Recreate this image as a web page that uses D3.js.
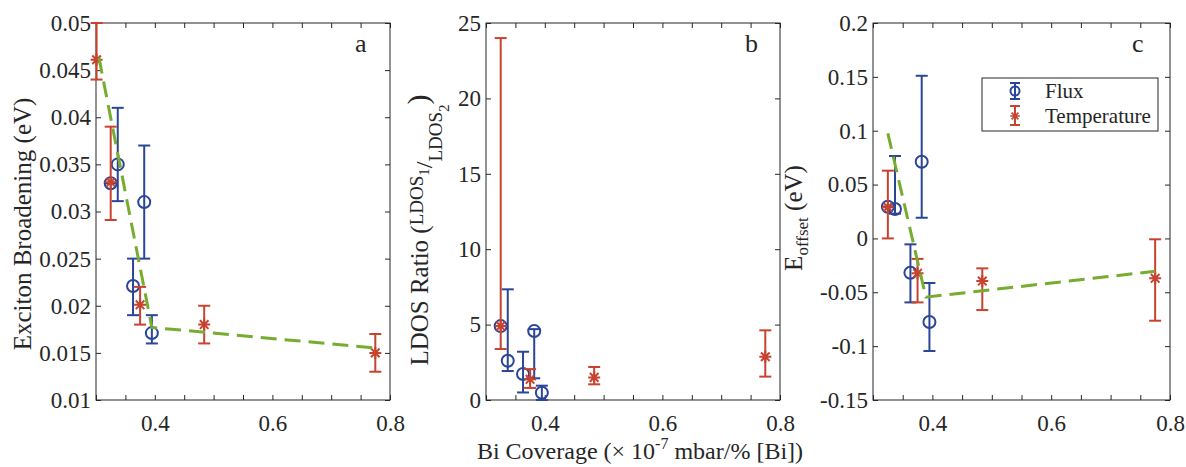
<!DOCTYPE html>
<html>
<head>
<meta charset="utf-8">
<script src="https://cdn.jsdelivr.net/npm/d3@7"></script>
<style>
  body { margin: 0; background: #fff; }
  text { font-family: "Liberation Serif", "Times New Roman", serif; fill: #262626; }
</style>
</head>
<body>
<svg id="chart" width="1186" height="467"></svg>
<script>
// ---- data ----
const coverageTicks = [0.3, 0.35, 0.4, 0.45, 0.5, 0.55, 0.6, 0.65, 0.7, 0.75, 0.8];
const coverageLabels = [0.4, 0.6, 0.8];

const fluxX = [0.325, 0.337, 0.363, 0.382, 0.395];
const tempXa = [0.301, 0.325, 0.375, 0.484, 0.775];
const tempX = [0.325, 0.375, 0.484, 0.775];

// a: exciton broadening (eV)
const broadTicks = [0.01, 0.015, 0.02, 0.025, 0.03, 0.035, 0.04, 0.045, 0.05];
const broadFlux = [0.033, 0.035, 0.0221, 0.031, 0.0171];
const broadFluxLo = [0.033, 0.0311, 0.019, 0.025, 0.016];
const broadFluxHi = [0.033, 0.041, 0.025, 0.037, 0.019];
const broadTemp = [0.0461, 0.0331, 0.0201, 0.018, 0.015];
const broadTempLo = [0.044, 0.0291, 0.018, 0.016, 0.013];
const broadTempHi = [0.05, 0.039, 0.022, 0.020, 0.017];
const broadFitX = [0.305, 0.395, 0.778];
const broadFitY = [0.0463, 0.0177, 0.0155];

// b: LDOS ratio
const ratioTicks = [0, 5, 10, 15, 20, 25];
const ratioFlux = [4.9, 2.6, 1.72, 4.57, 0.48];
const ratioFluxLo = [4.9, 1.92, 0.5, 1.44, 0.0];
const ratioFluxHi = [4.9, 7.34, 3.2, 4.7, 0.95];
const ratioTemp = [4.9, 1.37, 1.5, 2.87];
const ratioTempLo = [3.38, 0.8, 1.04, 1.55];
const ratioTempHi = [24.0, 2.05, 2.19, 4.62];

// c: E offset (eV)
const offsetTicks = [-0.15, -0.1, -0.05, 0, 0.05, 0.1, 0.15, 0.2];
const offsetFlux = [0.0294, 0.0273, -0.0318, 0.0712, -0.0776];
const offsetFluxLo = [0.0294, 0.023, -0.0594, 0.0192, -0.1045];
const offsetFluxHi = [0.0294, 0.0765, -0.0055, 0.151, -0.0414];
const offsetTemp = [0.029, -0.0324, -0.0396, -0.037];
const offsetTempLo = [0.0, -0.0594, -0.0665, -0.0764];
const offsetTempHi = [0.0629, -0.019, -0.0278, -0.0008];
const offsetFitX = [0.325, 0.389, 0.775];
const offsetFitY = [0.0976, -0.0545, -0.0305];

const seriesNames = ["Flux", "Temperature"];

// ---- styling ----
const blue = "#2b4597";
const red = "#c8432f";
const green = "#77ac30";
const axisColor = "#262626";

const svg = d3.select("#chart");
const plotTop = 23, plotBottom = 400;

function zip(xs, ys, lo, hi) {
    return xs.map(function (x, i) { return { x: x, y: ys[i], lo: lo[i], hi: hi[i] }; });
}

const panels = [
    { letter: "a", left: 96, right: 390, yDomain: [0.01, 0.05], yTicks: broadTicks,
      flux: zip(fluxX, broadFlux, broadFluxLo, broadFluxHi),
      temp: zip(tempXa, broadTemp, broadTempLo, broadTempHi),
      fit: broadFitX.map(function (x, i) { return [x, broadFitY[i]]; }) },
    { letter: "b", left: 486, right: 780, yDomain: [0, 25], yTicks: ratioTicks,
      flux: zip(fluxX, ratioFlux, ratioFluxLo, ratioFluxHi),
      temp: zip(tempX, ratioTemp, ratioTempLo, ratioTempHi),
      fit: null },
    { letter: "c", left: 873, right: 1170, yDomain: [-0.15, 0.2], yTicks: offsetTicks,
      flux: zip(fluxX, offsetFlux, offsetFluxLo, offsetFluxHi),
      temp: zip(tempX, offsetTemp, offsetTempLo, offsetTempHi),
      fit: offsetFitX.map(function (x, i) { return [x, offsetFitY[i]]; }) }
];

const starPath = "M-6,0H6M0,-6V6M-4.3,-4.3L4.3,4.3M-4.3,4.3L4.3,-4.3";

function errorBars(g, data, x, y, color) {
    const eb = g.append("g").selectAll("g").data(data).enter().append("g")
        .attr("stroke", color).attr("stroke-width", 2).attr("fill", "none");
    eb.append("line")
        .attr("x1", function (d) { return x(d.x); }).attr("x2", function (d) { return x(d.x); })
        .attr("y1", function (d) { return y(d.lo); }).attr("y2", function (d) { return y(d.hi); });
    eb.append("line")
        .attr("x1", function (d) { return x(d.x) - 6; }).attr("x2", function (d) { return x(d.x) + 6; })
        .attr("y1", function (d) { return y(d.lo); }).attr("y2", function (d) { return y(d.lo); });
    eb.append("line")
        .attr("x1", function (d) { return x(d.x) - 6; }).attr("x2", function (d) { return x(d.x) + 6; })
        .attr("y1", function (d) { return y(d.hi); }).attr("y2", function (d) { return y(d.hi); });
    return eb;
}

panels.forEach(function (p) {
    const x = d3.scaleLinear().domain([0.3, 0.8]).range([p.left, p.right]);
    const y = d3.scaleLinear().domain(p.yDomain).range([plotBottom, plotTop]);
    const g = svg.append("g");
    const fmt = function (d) { return String(+d.toFixed(4)); };

    // axes, MATLAB style: inward ticks on all four sides
    const xb = g.append("g").attr("transform", "translate(0," + plotBottom + ")")
        .call(d3.axisBottom(x).tickValues(coverageTicks).tickSizeInner(-5).tickSizeOuter(0).tickPadding(10)
            .tickFormat(function (d) { return coverageLabels.some(function (v) { return Math.abs(v - d) < 1e-9; }) ? fmt(d) : ""; }));
    const xt = g.append("g").attr("transform", "translate(0," + plotTop + ")")
        .call(d3.axisTop(x).tickValues(coverageTicks).tickSizeInner(-5).tickSizeOuter(0).tickFormat(""));
    const yl = g.append("g").attr("transform", "translate(" + p.left + ",0)")
        .call(d3.axisLeft(y).tickValues(p.yTicks).tickSizeInner(-5).tickSizeOuter(0).tickPadding(5).tickFormat(fmt));
    const yr = g.append("g").attr("transform", "translate(" + p.right + ",0)")
        .call(d3.axisRight(y).tickValues(p.yTicks).tickSizeInner(-5).tickSizeOuter(0).tickFormat(""));
    [xb, xt, yl, yr].forEach(function (a) {
        a.select(".domain").remove();
        a.selectAll(".tick line").attr("stroke", axisColor);
        a.selectAll(".tick text").style("font-family", "'Liberation Serif', serif")
            .style("font-size", "23px").attr("fill", axisColor);
    });
    xb.selectAll(".tick text").attr("dy", "0.92em");

    g.append("rect").attr("x", p.left).attr("y", plotTop)
        .attr("width", p.right - p.left).attr("height", plotBottom - plotTop)
        .attr("fill", "none").attr("stroke", axisColor).attr("stroke-width", 1);

    // Flux series
    errorBars(g, p.flux, x, y, blue);
    g.append("g").selectAll("circle").data(p.flux).enter().append("circle")
        .attr("cx", function (d) { return x(d.x); }).attr("cy", function (d) { return y(d.y); })
        .attr("r", 6).attr("fill", "none").attr("stroke", blue).attr("stroke-width", 2);

    // Temperature series
    errorBars(g, p.temp, x, y, red);
    g.append("g").selectAll("path").data(p.temp).enter().append("path")
        .attr("transform", function (d) { return "translate(" + x(d.x) + "," + y(d.y) + ")"; })
        .attr("d", starPath).attr("stroke", red).attr("stroke-width", 2).attr("fill", "none");

    // fit
    if (p.fit) {
        g.append("path").datum(p.fit)
            .attr("d", d3.line().x(function (d) { return x(d[0]); }).y(function (d) { return y(d[1]); }))
            .attr("fill", "none").attr("stroke", green).attr("stroke-width", 3)
            .attr("stroke-dasharray", "16,8");
    }

    g.append("text").attr("x", p.left + 259).attr("y", 52)
        .style("font-size", "26px").text(p.letter);
});

// y labels
svg.append("text").attr("transform", "translate(31,224) rotate(-90)")
    .attr("text-anchor", "middle").style("font-size", "25px").text("Exciton Broadening (eV)");

const lb = svg.append("text").attr("transform", "translate(428,230) rotate(-90)")
    .attr("text-anchor", "middle").style("font-size", "25px");
lb.append("tspan").text("LDOS Ratio (");
lb.append("tspan").style("font-size", "19px").attr("dy", -5).text("LDOS");
lb.append("tspan").style("font-size", "15px").attr("dy", 6).text("1");
lb.append("tspan").style("font-size", "24px").attr("dy", 3).text("/");
lb.append("tspan").style("font-size", "19px").attr("dy", 10).text("LDOS");
lb.append("tspan").style("font-size", "15px").attr("dy", 7).text("2");
lb.append("tspan").style("font-size", "30px").attr("dy", -21).text(")");

const lc = svg.append("text").attr("transform", "translate(802,218) rotate(-90)")
    .attr("text-anchor", "middle").style("font-size", "25px");
lc.append("tspan").text("E");
lc.append("tspan").style("font-size", "17px").attr("dy", 6).text("offset");
lc.append("tspan").attr("dy", -6).text(" (eV)");

// x label
const xl = svg.append("text").attr("x", 640).attr("y", 459)
    .attr("text-anchor", "middle").style("font-size", "24px");
xl.append("tspan").text("Bi Coverage (\u00d7 10");
xl.append("tspan").style("font-size", "16px").attr("dy", -10).text("-7");
xl.append("tspan").attr("dy", 10).text(" mbar/% [Bi])");

// legend
const leg = svg.append("g");
leg.append("rect").attr("x", 982).attr("y", 78).attr("width", 176).attr("height", 53)
    .attr("fill", "#fff").attr("stroke", axisColor).attr("stroke-width", 1);
const legItems = [
    { name: seriesNames[0], color: blue, cy: 91, lo: 99, hi: 83 },
    { name: seriesNames[1], color: red, cy: 116, lo: 125, hi: 106 }
];
legItems.forEach(function (d, i) {
    const s = leg.append("g").attr("stroke", d.color).attr("stroke-width", 2).attr("fill", "none");
    s.append("line").attr("x1", 1015).attr("x2", 1015).attr("y1", d.lo).attr("y2", d.hi);
    s.append("line").attr("x1", 1010).attr("x2", 1020).attr("y1", d.lo).attr("y2", d.lo);
    s.append("line").attr("x1", 1010).attr("x2", 1020).attr("y1", d.hi).attr("y2", d.hi);
    if (i === 0) s.append("circle").attr("cx", 1015).attr("cy", d.cy).attr("r", 4.5);
    else s.append("path").attr("transform", "translate(1015," + d.cy + ") scale(0.8)").attr("d", starPath);
    leg.append("text").attr("x", 1045).attr("y", d.cy + 7).style("font-size", "21px").text(d.name);
});
</script>
</body>
</html>
